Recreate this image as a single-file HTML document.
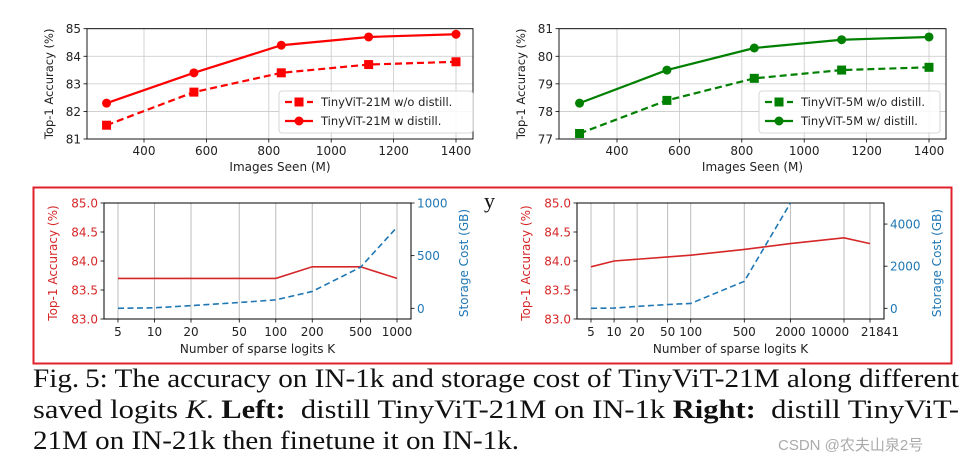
<!DOCTYPE html>
<html><head><meta charset="utf-8">
<style>
body{margin:0;background:#fff;width:977px;height:465px;overflow:hidden;position:relative;font-family:"DejaVu Sans",sans-serif}
svg{position:absolute;left:0;top:0}
.cap{position:absolute;left:33px;font-family:"Liberation Serif",serif;font-size:26px;color:#111;line-height:31px;white-space:nowrap;transform-origin:0 0;display:inline-block}
</style></head><body>
<svg id="chart" width="977" height="465" font-family="DejaVu Sans, sans-serif"></svg>
<div class="cap" style="top:363px" data-tw="926">Fig.&#8201;5: The accuracy on IN-1k and storage cost of TinyViT-21M along different</div>
<div class="cap" style="top:394px" data-tw="926">saved logits <i>K</i>. <b>Left:</b>&nbsp; distill TinyViT-21M on IN-1k <b>Right:</b>&nbsp; distill TinyViT-</div>
<div class="cap" style="top:425px" data-tw="486">21M on IN-21k then finetune it on IN-1k.</div>
<div style="position:absolute;left:778px;top:434px;font-size:15px;color:#aaa;font-family:'Liberation Sans','Noto Sans CJK SC',sans-serif">CSDN @农夫山泉2号</div>
<script>
// top charts data
const seen = [280, 560, 840, 1120, 1400];
const acc21Wo = [81.5, 82.7, 83.4, 83.7, 83.8];
const acc21W = [82.3, 83.4, 84.4, 84.7, 84.8];
const acc5Wo = [77.2, 78.4, 79.2, 79.5, 79.6];
const acc5W = [78.3, 79.5, 80.3, 80.6, 80.7];
const seenTicks = [400, 600, 800, 1000, 1200, 1400];
const acc21Ticks = [81, 82, 83, 84, 85];
const acc5Ticks = [77, 78, 79, 80, 81];
// bottom charts data
const kLeft = [5, 10, 20, 50, 100, 200, 500, 1000];
const accLeft = [83.7, 83.7, 83.7, 83.7, 83.7, 83.9, 83.9, 83.7];
const costLeft = [0, 5, 25, 55, 80, 160, 390, 770];
const kRight = [5, 10, 20, 50, 100, 500, 2000, 10000, 21841];
const accRight = [83.9, 84.0, 84.03, 84.07, 84.1, 84.2, 84.3, 84.4, 84.3];
const costRight = [0, 10, 90, 180, 230, 1280, 5000, 25000, 55000];
const accKTicks = [83.0, 83.5, 84.0, 84.5, 85.0];
const costLeftTicks = [0, 500, 1000];
const costRightTicks = [0, 2000, 4000];

document.querySelectorAll('.cap').forEach(c => {
  const w = c.getBoundingClientRect().width;
  c.style.transform = 'scaleX(' + (parseFloat(c.dataset.tw) / w) + ')';
});

const svg = document.getElementById('chart');
const NS = 'http://www.w3.org/2000/svg';
function mk(tag, at, parent) {
  const e = document.createElementNS(NS, tag);
  for (const k in at) e.setAttribute(k, at[k]);
  (parent || svg).appendChild(e);
  return e;
}
function txt(x, y, s, at, name) {
  const t = mk('text', Object.assign({x: x, y: y, 'font-size': 12, fill: '#222'}, at));
  t.textContent = s;
  
  
  return t;
}
function lin(d0, d1, r0, r1) { return v => r0 + (v - d0) * (r1 - r0) / (d1 - d0); }
function logs(d0, d1, r0, r1) { return v => r0 + (Math.log10(v) - Math.log10(d0)) * (r1 - r0) / (Math.log10(d1) - Math.log10(d0)); }

const frame = mk('rect', {x: 33.5, y: 187.5, width: 918, height: 176, fill: 'none', stroke: '#e0202a', 'stroke-width': 2});


txt(484, 208, 'y', {'font-family': 'Liberation Serif, serif', 'font-size': 22, fill: '#111'}, 'stray-text');

function topChart(o) {
  const g = mk('g', {});
  
  
  const xs = lin(400, 1400, o.x400, o.x1400), ys = lin(o.yt[0], o.yt[4], o.bot, o.top);
  o.xt.forEach(v => {
    const l = mk('line', {x1: xs(v), x2: xs(v), y1: o.top, y2: o.bot, stroke: '#c8c8c8', 'stroke-width': 0.8}, g);
    
    
    mk('line', {x1: xs(v), x2: xs(v), y1: o.bot, y2: o.bot + 3.5, stroke: '#000', 'stroke-width': 0.8}, g);
    txt(xs(v), o.bot + 16, String(v), {'text-anchor': 'middle'}, 'x-tick-label');
  });
  o.yt.forEach(v => {
    const l = mk('line', {x1: o.left, x2: o.right, y1: ys(v), y2: ys(v), stroke: '#c8c8c8', 'stroke-width': 0.8}, g);
    
    
    mk('line', {x1: o.left - 3.5, x2: o.left, y1: ys(v), y2: ys(v), stroke: '#000', 'stroke-width': 0.8}, g);
    txt(o.left - 6, ys(v) + 4.5, String(v), {'text-anchor': 'end'}, 'y-tick-label');
  });
  const ax = mk('rect', {x: o.left, y: o.top, width: o.right - o.left, height: o.bot - o.top, fill: 'none', stroke: '#000', 'stroke-width': 0.9}, g);
  
  
  txt((o.left + o.right) / 2, o.bot + 32, 'Images Seen (M)', {'text-anchor': 'middle'}, 'x-axis-title');
  txt(0, 0, 'Top-1 Accuracy (%)', {'text-anchor': 'middle', transform: `translate(${o.left - 34},${(o.top + o.bot) / 2}) rotate(-90)`, 'font-size': 11.5}, 'y-axis-title');
  [[o.wo, true], [o.w, false]].forEach(([vals, dash]) => {
    const p = mk('polyline', {points: seen.map((s, i) => xs(s) + ',' + ys(vals[i])).join(' '), fill: 'none', stroke: o.color, 'stroke-width': 2.2, 'stroke-dasharray': dash ? '7,4' : 'none'}, g);
    
    
    seen.forEach((s, i) => {
      const m = dash ? mk('rect', {x: xs(s) - 4.5, y: ys(vals[i]) - 4.5, width: 9, height: 9, fill: o.color}, g)
                     : mk('circle', {cx: xs(s), cy: ys(vals[i]), r: 4.5, fill: o.color}, g);
      
      
    });
  });
  const lg = mk('rect', {x: o.lx, y: 91, width: o.lw, height: 42, rx: 3, fill: '#fff', 'fill-opacity': 0.85, stroke: '#ccc', 'stroke-width': 0.8}, g);
  
  
  [[o.l1, true, 102], [o.l2, false, 121]].forEach(([lab, dash, y]) => {
    mk('line', {x1: o.lx + 6, x2: o.lx + 34, y1: y, y2: y, stroke: o.color, 'stroke-width': 2.2, 'stroke-dasharray': dash ? '7,4' : 'none'}, g);
    if (dash) mk('rect', {x: o.lx + 15.5, y: y - 4.5, width: 9, height: 9, fill: o.color}, g);
    else mk('circle', {cx: o.lx + 20, cy: y, r: 4.5, fill: o.color}, g);
    txt(o.lx + 42, y + 4, lab, {'font-size': 11.5}, 'legend-entry');
  });
}
topChart({name: 'chart-21m-distill', left: 87, right: 473, top: 28.7, bot: 139, x400: 144, x1400: 456, xt: seenTicks, yt: acc21Ticks, wo: acc21Wo, w: acc21W, color: '#ff0000', lx: 279, lw: 194, l1: 'TinyViT-21M w/o distill.', l2: 'TinyViT-21M w distill.'});
topChart({name: 'chart-5m-distill', left: 559, right: 946, top: 28.7, bot: 139, x400: 617, x1400: 929, xt: seenTicks, yt: acc5Ticks, wo: acc5Wo, w: acc5W, color: '#008000', lx: 759, lw: 181, l1: 'TinyViT-5M w/o distill.', l2: 'TinyViT-5M w/ distill.'});

function botChart(o) {
  const g = mk('g', {});
  
  
  const xs = logs(o.ks[0], o.kEnd, o.x0, o.xEnd);
  const ys = lin(83, 85, o.bot, o.top);
  const yc = lin(0, o.cTop, o.c0, o.top);
  const red = '#d62728', blue = '#1f77b4';
  const cp = mk('clipPath', {id: 'clip-' + o.name}, g);
  mk('rect', {x: o.left, y: o.top, width: o.right - o.left, height: o.bot - o.top}, cp);
  o.ks.forEach((k, i) => {
    const l = mk('line', {x1: xs(k), x2: xs(k), y1: o.top, y2: o.bot, stroke: '#bdbdbd', 'stroke-width': 1}, g);
    
    
    mk('line', {x1: xs(k), x2: xs(k), y1: o.bot, y2: o.bot + 3.5, stroke: '#000', 'stroke-width': 0.8}, g);
    const off = (o.labOff && o.labOff[i]) || 0;
    txt(xs(k) + off, o.bot + 17, String(k), {'text-anchor': 'middle'}, 'x-tick-label');
  });
  accKTicks.forEach(v => {
    mk('line', {x1: o.left - 3.5, x2: o.left, y1: ys(v), y2: ys(v), stroke: '#000', 'stroke-width': 0.8}, g);
    txt(o.left - 6, ys(v) + 4.5, v.toFixed(1), {'text-anchor': 'end', fill: red}, 'left-y-tick-label');
  });
  o.ct.forEach(v => {
    mk('line', {x1: o.right, x2: o.right + 3.5, y1: yc(v), y2: yc(v), stroke: '#000', 'stroke-width': 0.8}, g);
    txt(o.right + 6, yc(v) + 4.5, String(v), {fill: blue}, 'right-y-tick-label');
  });
  const ax = mk('rect', {x: o.left, y: o.top, width: o.right - o.left, height: o.bot - o.top, fill: 'none', stroke: '#000', 'stroke-width': 1}, g);
  
  
  txt((o.left + o.right) / 2, o.bot + 34, 'Number of sparse logits K', {'text-anchor': 'middle'}, 'x-axis-title');
  txt(0, 0, 'Top-1 Accuracy (%)', {'text-anchor': 'middle', fill: red, transform: `translate(${o.left - 47},${(o.top + o.bot) / 2 + 2}) rotate(-90)`}, 'left-y-axis-title');
  txt(0, 0, 'Storage Cost (GB)', {'text-anchor': 'middle', fill: blue, transform: `translate(${o.rt},${(o.top + o.bot) / 2 + 2}) rotate(-90)`}, 'right-y-axis-title');
  const pa = mk('polyline', {points: o.ks.map((k, i) => xs(k) + ',' + ys(o.acc[i])).join(' '), fill: 'none', stroke: red, 'stroke-width': 1.6, 'clip-path': `url(#clip-${o.name})`}, g);
  
  
  const pc = mk('polyline', {points: o.ks.map((k, i) => xs(k) + ',' + yc(o.cost[i])).join(' '), fill: 'none', stroke: blue, 'stroke-width': 1.6, 'stroke-dasharray': '6,3.5', 'clip-path': `url(#clip-${o.name})`}, g);
  
  
}
botChart({name: 'chart-in1k-logits', left: 104, right: 411, top: 203, bot: 319, ks: kLeft, kEnd: 1000, x0: 118, xEnd: 397, acc: accLeft, cost: costLeft, cTop: 1000, c0: 308.3, ct: costLeftTicks, rt: 468});
botChart({name: 'chart-in21k-logits', left: 577, right: 884, top: 203, bot: 319, ks: kRight, kEnd: 10000, x0: 591, xEnd: 844, acc: accRight, cost: costRight, cTop: 5000, c0: 308.3, ct: costRightTicks, rt: 941, labOff: [0, 0, 0, 0, 0, 0, 0, -14, 10]});
</script>
</body></html>
